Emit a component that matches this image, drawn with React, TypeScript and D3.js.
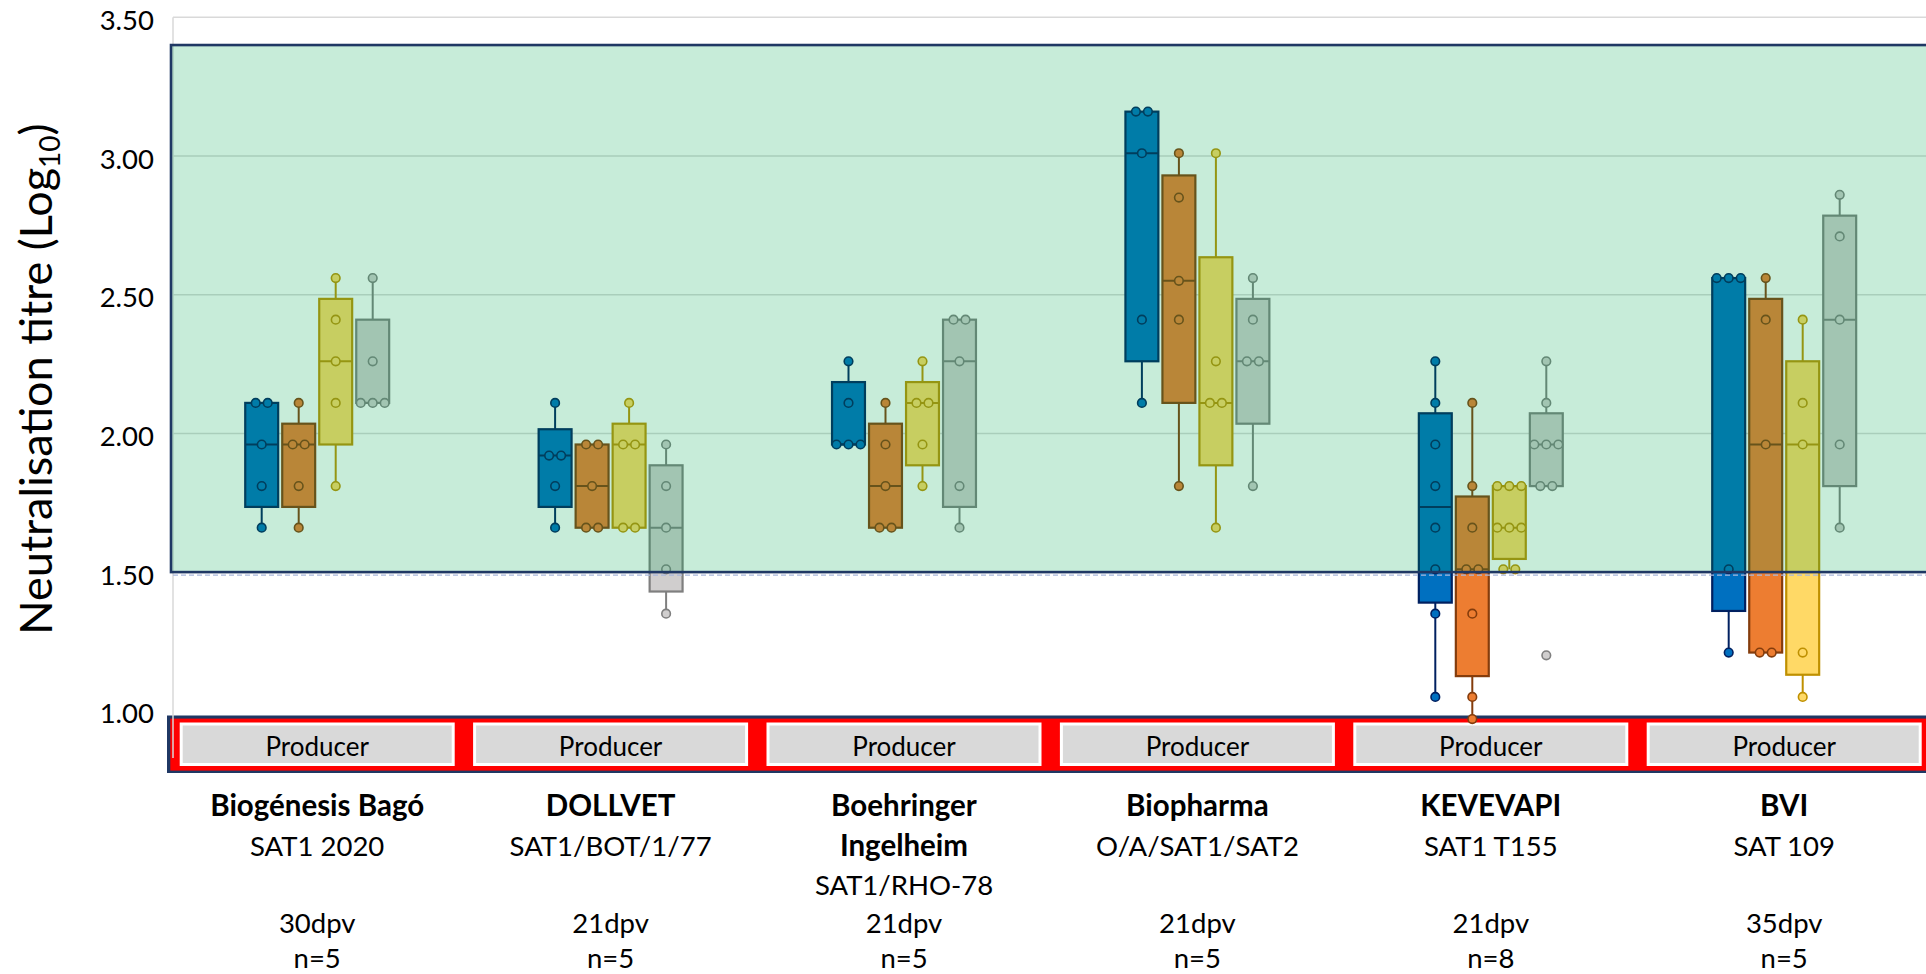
import React from 'react';
import * as d3 from 'd3';

// ---------- data ----------
const categories = ['Biogénesis Bagó', 'DOLLVET', 'Boehringer Ingelheim', 'Biopharma', 'KEVEVAPI', 'BVI'];
const nameLines = [['Biogénesis Bagó'], ['DOLLVET'], ['Boehringer', 'Ingelheim'], ['Biopharma'], ['KEVEVAPI'], ['BVI']];
const strains = ['SAT1 2020', 'SAT1/BOT/1/77', 'SAT1/RHO-78', 'O/A/SAT1/SAT2', 'SAT1 T155', 'SAT 109'];
const dpvLabels = ['30dpv', '21dpv', '21dpv', '21dpv', '21dpv', '35dpv'];
const nLabels = ['n=5', 'n=5', 'n=5', 'n=5', 'n=8', 'n=5'];
const producerLabel = 'Producer';

const seriesNames = ['Serum 1', 'Serum 2', 'Serum 3', 'Serum 4'];
// titres per category, one array per series
const series1 = [
  [2.11, 2.11, 1.96, 1.81, 1.66],
  [2.11, 1.92, 1.92, 1.81, 1.66],
  [2.26, 2.11, 1.96, 1.96, 1.96],
  [3.16, 3.16, 3.01, 2.41, 2.11],
  [2.26, 2.11, 1.96, 1.81, 1.66, 1.51, 1.35, 1.05],
  [2.56, 2.56, 2.56, 1.51, 1.21],
];
const series2 = [
  [2.11, 1.96, 1.96, 1.81, 1.66],
  [1.96, 1.96, 1.81, 1.66, 1.66],
  [2.11, 1.96, 1.81, 1.66, 1.66],
  [3.01, 2.85, 2.55, 2.41, 1.81],
  [2.11, 1.81, 1.66, 1.51, 1.51, 1.35, 1.05, 0.97],
  [2.56, 2.41, 1.96, 1.21, 1.21],
];
const series3 = [
  [2.56, 2.41, 2.26, 2.11, 1.81],
  [2.11, 1.96, 1.96, 1.66, 1.66],
  [2.26, 2.11, 2.11, 1.96, 1.81],
  [3.01, 2.26, 2.11, 2.11, 1.66],
  [1.81, 1.81, 1.81, 1.66, 1.66, 1.66, 1.51, 1.51],
  [2.41, 2.11, 1.96, 1.21, 1.05],
];
const series4 = [
  [2.56, 2.26, 2.11, 2.11, 2.11],
  [1.96, 1.81, 1.66, 1.51, 1.35],
  [2.41, 2.41, 2.26, 1.81, 1.66],
  [2.56, 2.41, 2.26, 2.26, 1.81],
  [2.26, 2.11, 1.96, 1.96, 1.96, 1.81, 1.81, 1.20],
  [2.86, 2.71, 2.41, 1.96, 1.66],
];
const allSeries = [series1, series2, series3, series4];
const seriesFill = ['#0070C0', '#ED7D31', '#FFD966', '#D0CECE'];
const seriesStroke = ['#002060', '#843C0C', '#BF9000', '#7F7F7F'];

const yTicks = [1.0, 1.5, 2.0, 2.5, 3.0, 3.5];
const protectedRange = [1.5, 3.4];

// ---------- helpers ----------
function quartileExc(sorted: number[], p: number) {
  const n = sorted.length;
  const pos = p * (n + 1);
  const lo = Math.floor(pos);
  const frac = pos - lo;
  if (lo <= 0) return sorted[0];
  if (lo >= n) return sorted[n - 1];
  return sorted[lo - 1] + frac * (sorted[lo] - sorted[lo - 1]);
}
function boxStats(values: number[]) {
  const s = [...values].sort((a, b) => a - b);
  const q1 = quartileExc(s, 0.25);
  const med = d3.median(s) as number;
  const q3 = quartileExc(s, 0.75);
  const iqr = q3 - q1;
  const inside = s.filter(v => v >= q1 - 1.5 * iqr - 1e-9 && v <= q3 + 1.5 * iqr + 1e-9);
  return { q1, med, q3, lo: d3.min(inside) as number, hi: d3.max(inside) as number };
}
function jitter(values: number[]) {
  const groups = d3.group(values.map((v, i) => ({ v, i })), d => d.v);
  const out: { v: number; dx: number }[] = [];
  groups.forEach(arr => {
    const m = arr.length;
    arr.forEach((d, k) => out.push({ v: d.v, dx: (k - (m - 1) / 2) * 12 }));
  });
  return out;
}

// ---------- layout ----------
const W = 1926, H = 974;
const plotLeft = 170.5;
const catStep = 293.4;
const x0 = d3.scaleBand<string>().domain(categories).range([plotLeft, plotLeft + catStep * categories.length]).padding(0);
const x1 = d3.scaleBand<string>().domain(seriesNames).range([-74, 74]).paddingInner(0.11).paddingOuter(0.055);
const y = d3.scaleLinear().domain([1.0, 3.5]).range([710.8, 17.3]);

const FONT = 'Lato, "Open Sans", sans-serif';

export default function App() {
  const axisX = 173;
  const right = W + 10;
  const bandTop = y(protectedRange[1]);
  const bandBottom = y(protectedRange[0]);
  return (
    <div style={{ position: 'absolute', left: 0, top: 0 }}>
      <svg width={W} height={H} style={{ display: 'block', background: '#fff' }} fontFamily={FONT}>
        {/* gridlines */}
        {yTicks.filter(t => t > 1.0).map(t => (
          <line key={t} x1={axisX} x2={right} y1={y(t)} y2={y(t)} stroke="#D9D9D9" strokeWidth={1.5} />
        ))}

        {/* producer band */}
        <rect x={167} y={715.5} width={right - 167} height={57.5} fill="#1F3864" />
        <rect x={170.3} y={718.6} width={right - 170} height={52} fill="#FF0000" />
        {categories.map(c => {
          const cx = (x0(c) as number) + x0.bandwidth() / 2;
          return (
            <g key={c}>
              <rect x={cx - 136} y={724} width={272} height={40.5} fill="#D9D9D9" stroke="#fff" strokeWidth={3} />
              <text x={cx} y={756} textAnchor="middle" fontSize={26} fill="#000">{producerLabel}</text>
            </g>
          );
        })}
        {/* left axis line */}
        <line x1={axisX} x2={axisX} y1={y(3.5)} y2={758} stroke="#D9D9D9" strokeWidth={1.5} />

        {/* boxes */}
        {categories.map((c, ci) => {
          const cx0 = (x0(c) as number) + x0.bandwidth() / 2;
          return (
            <g key={c}>
              {seriesNames.map((s, si) => {
                const vals = allSeries[si][ci];
                const st = boxStats(vals);
                const bx = cx0 + (x1(s) as number);
                const bw = x1.bandwidth();
                const mx = bx + bw / 2;
                const fill = seriesFill[si];
                const stroke = seriesStroke[si];
                return (
                  <g key={s}>
                    <line x1={mx} x2={mx} y1={y(st.hi)} y2={y(st.q3)} stroke={stroke} strokeWidth={2} />
                    <line x1={mx} x2={mx} y1={y(st.q1)} y2={y(st.lo)} stroke={stroke} strokeWidth={2} />
                    <rect x={bx} y={y(st.q3)} width={bw} height={Math.max(0, y(st.q1) - y(st.q3))} fill={fill} stroke={stroke} strokeWidth={2.2} />
                    <line x1={bx} x2={bx + bw} y1={y(st.med)} y2={y(st.med)} stroke={stroke} strokeWidth={2} />
                    {jitter(vals).map((p, pi) => (
                      <circle key={pi} cx={mx + p.dx} cy={y(p.v)} r={4.3} fill={fill} stroke={stroke} strokeWidth={1.6} />
                    ))}
                  </g>
                );
              })}
            </g>
          );
        })}

        {/* protected range overlay */}
        <rect x={171} y={bandTop} width={right - 171} height={bandBottom - bandTop} fill="#00A852" fillOpacity={0.22} />
        <rect x={171} y={bandTop} width={right - 171} height={bandBottom - bandTop} fill="none" stroke="#1F3864" strokeWidth={2.6} />
        <line x1={173} x2={right} y1={bandBottom + 3} y2={bandBottom + 3} stroke="#A9B8DC" strokeWidth={1.2} strokeDasharray="5,3" />

        {/* y tick labels */}
        {yTicks.map(t => (
          <text key={t} x={154} y={y(t) + 12.5} textAnchor="end" fontSize={27.5} fill="#000">{t.toFixed(2)}</text>
        ))}

        {/* y title */}
        <text transform={`translate(52,379) rotate(-90)`} textAnchor="middle" fontSize={45} fill="#000">
          Neutralisation titre (Log<tspan dy={8} fontSize={28}>10</tspan><tspan dy={-8}>)</tspan>
        </text>

        {/* category labels */}
        {categories.map((c, ci) => {
          const cx = (x0(c) as number) + x0.bandwidth() / 2;
          const lines: { t: string; bold: boolean }[] = nameLines[ci].map(t => ({ t, bold: true }));
          lines.push({ t: strains[ci], bold: false });
          const base = [816, 856, 894.5];
          return (
            <g key={c} fill="#000">
              {lines.map((l, li) => (
                <text key={li} x={cx} y={base[li]} textAnchor="middle" fontSize={l.bold ? 29.5 : 27.5} fontWeight={l.bold ? 700 : 400}>{l.t}</text>
              ))}
              <text x={cx} y={933} textAnchor="middle" fontSize={27.5}>{dpvLabels[ci]}</text>
              <text x={cx} y={968} textAnchor="middle" fontSize={27.5}>{nLabels[ci]}</text>
            </g>
          );
        })}
      </svg>
    </div>
  );
}
